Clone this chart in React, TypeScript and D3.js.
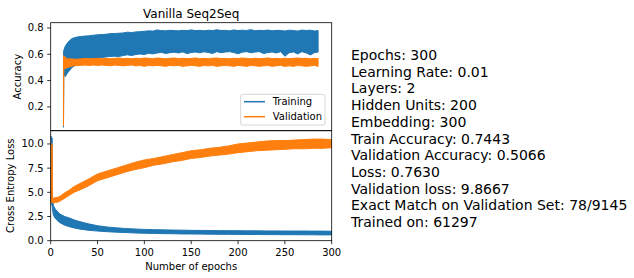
import React from "react";
import * as d3 from "d3";

// ---------- data (envelopes) ----------
const TOP_EPOCHS = [0, 0.4, 2, 5, 10, 15, 20, 25, 30, 35, 40, 45, 50, 55, 60, 65, 70, 75, 80, 85, 90, 95, 100, 105, 110, 115, 120, 125, 130, 135, 140, 145, 150, 155, 160, 165, 170, 175, 180, 185, 190, 195, 200, 205, 210, 215, 220, 225, 230, 235, 240, 245, 250, 255, 260, 265, 270, 275, 280, 285, 290, 295, 299];
const TRAIN_ACC_HI = [0.60, 0.63, 0.66, 0.69, 0.72, 0.73, 0.735, 0.738, 0.74, 0.745, 0.748, 0.75, 0.752, 0.757, 0.758, 0.76, 0.762, 0.768, 0.765, 0.77, 0.772, 0.775, 0.778, 0.776, 0.785, 0.78, 0.778, 0.782, 0.78, 0.778, 0.782, 0.78, 0.785, 0.78, 0.782, 0.778, 0.783, 0.78, 0.786, 0.781, 0.782, 0.778, 0.785, 0.78, 0.783, 0.781, 0.787, 0.779, 0.782, 0.78, 0.784, 0.778, 0.782, 0.781, 0.777, 0.783, 0.78, 0.776, 0.784, 0.781, 0.783, 0.777, 0.78];
const TRAIN_ACC_LO = [0.045, 0.45, 0.43, 0.46, 0.50, 0.52, 0.53, 0.545, 0.55, 0.56, 0.57, 0.575, 0.58, 0.583, 0.585, 0.583, 0.59, 0.596, 0.59, 0.598, 0.602, 0.598, 0.607, 0.603, 0.61, 0.614, 0.606, 0.612, 0.616, 0.61, 0.618, 0.605, 0.613, 0.617, 0.611, 0.619, 0.614, 0.606, 0.62, 0.612, 0.617, 0.62, 0.613, 0.604, 0.616, 0.62, 0.611, 0.617, 0.62, 0.605, 0.613, 0.617, 0.61, 0.62, 0.585, 0.612, 0.618, 0.603, 0.62, 0.61, 0.595, 0.613, 0.617];
const VAL_ACC_HI = [0.58, 0.59, 0.575, 0.565, 0.565, 0.562, 0.565, 0.568, 0.566, 0.567, 0.57, 0.566, 0.569, 0.566, 0.569, 0.572, 0.567, 0.569, 0.566, 0.57, 0.567, 0.572, 0.569, 0.566, 0.572, 0.569, 0.566, 0.569, 0.572, 0.567, 0.57, 0.567, 0.569, 0.572, 0.567, 0.569, 0.566, 0.57, 0.572, 0.567, 0.569, 0.566, 0.57, 0.567, 0.572, 0.569, 0.566, 0.57, 0.567, 0.569, 0.572, 0.567, 0.569, 0.566, 0.57, 0.567, 0.569, 0.572, 0.567, 0.57, 0.566, 0.569, 0.567];
const VAL_ACC_LO = [0.055, 0.50, 0.49, 0.50, 0.51, 0.514, 0.515, 0.518, 0.515, 0.518, 0.515, 0.518, 0.515, 0.512, 0.518, 0.515, 0.512, 0.515, 0.518, 0.512, 0.515, 0.508, 0.515, 0.512, 0.515, 0.512, 0.508, 0.515, 0.512, 0.515, 0.508, 0.512, 0.515, 0.512, 0.508, 0.515, 0.512, 0.515, 0.508, 0.512, 0.515, 0.512, 0.508, 0.515, 0.512, 0.508, 0.515, 0.512, 0.508, 0.512, 0.515, 0.508, 0.512, 0.515, 0.508, 0.512, 0.508, 0.515, 0.512, 0.508, 0.512, 0.515, 0.508];

const BOT_EPOCHS = [0, 1.6, 2.0, 2.5, 3, 5, 8, 10, 15, 20, 25, 30, 40, 50, 60, 70, 80, 90, 100, 110, 120, 130, 140, 150, 160, 170, 180, 190, 200, 210, 220, 230, 240, 250, 260, 270, 280, 290, 300];
const TRAIN_LOSS_HI = [10.83, 10.6, 4.3, 3.9, 3.6, 3.25, 2.95, 2.75, 2.5, 2.35, 2.15, 2.0, 1.75, 1.55, 1.42, 1.33, 1.26, 1.21, 1.17, 1.14, 1.12, 1.1, 1.09, 1.07, 1.06, 1.05, 1.04, 1.04, 1.03, 1.02, 1.02, 1.01, 1.01, 1.0, 1.0, 1.0, 0.99, 0.99, 0.98];
const TRAIN_LOSS_LO = [4.0, 3.6, 3.2, 2.9, 2.6, 2.3, 2.0, 1.85, 1.6, 1.45, 1.32, 1.22, 1.08, 1.0, 0.93, 0.88, 0.84, 0.8, 0.77, 0.75, 0.73, 0.72, 0.7, 0.69, 0.68, 0.67, 0.66, 0.66, 0.65, 0.64, 0.64, 0.63, 0.63, 0.62, 0.62, 0.61, 0.61, 0.6, 0.6];
const VAL_LOSS_HI = [10.1, 9.9, 4.4, 4.4, 4.4, 4.45, 4.5, 4.6, 4.95, 5.25, 5.6, 5.85, 6.35, 6.9, 7.2, 7.5, 7.8, 8.1, 8.35, 8.5, 8.7, 8.9, 9.1, 9.3, 9.4, 9.55, 9.65, 9.8, 10.0, 10.1, 10.2, 10.3, 10.35, 10.35, 10.4, 10.45, 10.5, 10.5, 10.45];
const VAL_LOSS_LO = [4.0, 3.95, 3.9, 3.9, 3.9, 3.95, 4.0, 4.1, 4.4, 4.7, 5.0, 5.2, 5.65, 6.2, 6.5, 6.8, 7.1, 7.35, 7.55, 7.8, 7.95, 8.15, 8.3, 8.5, 8.6, 8.75, 8.85, 8.95, 9.1, 9.2, 9.3, 9.35, 9.4, 9.45, 9.5, 9.5, 9.55, 9.55, 9.6];

const TOP_Y_TICKS = [0.2, 0.4, 0.6, 0.8];
const BOT_Y_TICKS = [0, 2.5, 5, 7.5, 10];
const X_TICKS = [0, 50, 100, 150, 200, 250, 300];
const LEGEND = ["Training", "Validation"];
const INFO_LINES = [
  "Epochs: 300",
  "Learning Rate: 0.01",
  "Layers: 2",
  "Hidden Units: 200",
  "Embedding: 300",
  "Train Accuracy: 0.7443",
  "Validation Accuracy: 0.5066",
  "Loss: 0.7630",
  "Validation loss: 9.8667",
  "Exact Match on Validation Set: 78/9145",
  "Trained on: 61297",
];

const BLUE = "#1f77b4";
const ORANGE = "#ff7f0e";
const FONT = "DejaVu Sans, sans-serif";

export default function App() {
  const L = 50.7, R = 331.7;
  const T1 = 22.7, B1 = 130.7, T2 = 130.7, B2 = 240.7;

  const xTop = d3.scaleLinear().domain([-15, 314.95]).range([L, R]);
  const yTop = d3.scaleLinear().domain([0.019, 0.84]).range([B1, T1]);
  const xBot = d3.scaleLinear().domain([0, 300]).range([L, R]);
  const yBot = d3.scaleLinear().domain([0, 11.37]).range([B2, T2]);

  const band = (xs: number[], lo: number[], hi: number[], x: any, y: any) =>
    d3.area<number>()
      .x((_, i) => x(xs[i]))
      .y0((_, i) => y(lo[i]))
      .y1((_, i) => y(hi[i]))(xs) || "";

  const tick = 3.5;

  return (
    <svg width={634} height={278} style={{ position: "absolute", left: 0, top: 0, background: "#fff" }} fontFamily={FONT}>
      <defs>
        <clipPath id="c1"><rect x={L} y={T1} width={R - L} height={B1 - T1} /></clipPath>
        <clipPath id="c2"><rect x={L} y={T2} width={R - L} height={B2 - T2} /></clipPath>
      </defs>
      <rect x={0} y={0} width={634} height={278} fill="#fff" />

      {/* top plot */}
      <g clipPath="url(#c1)">
        <path d={band(TOP_EPOCHS, TRAIN_ACC_LO, TRAIN_ACC_HI, xTop, yTop)} fill={BLUE} stroke={BLUE} strokeWidth={1} />
        <path d={band(TOP_EPOCHS, VAL_ACC_LO, VAL_ACC_HI, xTop, yTop)} fill={ORANGE} stroke={ORANGE} strokeWidth={1} />
      </g>
      <text x={(L + R) / 2} y={17.5} textAnchor="middle" fontSize={12}>Vanilla Seq2Seq</text>
      {TOP_Y_TICKS.map((t) => (
        <g key={"ty" + t}>
          <line x1={L - tick} x2={L} y1={yTop(t)} y2={yTop(t)} stroke="#000" strokeWidth={0.8} />
          <text x={L - 7} y={yTop(t)} dy="0.35em" textAnchor="end" fontSize={10} fill="#000">{t.toFixed(1)}</text>
        </g>
      ))}
      <text transform={`translate(20.5,${(T1 + B1) / 2}) rotate(-90)`} textAnchor="middle" fontSize={10}>Accuracy</text>
      <rect x={L} y={T1} width={R - L} height={B1 - T1} fill="none" stroke="#000" strokeWidth={0.8} />

      {/* legend */}
      <rect x={240.7} y={94.3} width={84.3} height={30.7} rx={2} fill="#fff" fillOpacity={0.8} stroke="#cccccc" strokeWidth={0.8} />
      {LEGEND.map((name, i) => (
        <g key={name}>
          <line x1={244} x2={265} y1={101.7 + i * 15} y2={101.7 + i * 15} stroke={i === 0 ? BLUE : ORANGE} strokeWidth={1.5} />
          <text x={272.7} y={101.7 + i * 15} dy="0.35em" fontSize={10}>{name}</text>
        </g>
      ))}

      {/* bottom plot */}
      <g clipPath="url(#c2)">
        <path d={band(BOT_EPOCHS, TRAIN_LOSS_LO, TRAIN_LOSS_HI, xBot, yBot)} fill={BLUE} stroke={BLUE} strokeWidth={1} />
        <path d={band(BOT_EPOCHS, VAL_LOSS_LO, VAL_LOSS_HI, xBot, yBot)} fill={ORANGE} stroke={ORANGE} strokeWidth={1} />
      </g>
      {BOT_Y_TICKS.map((t) => (
        <g key={"by" + t}>
          <line x1={L - tick} x2={L} y1={yBot(t)} y2={yBot(t)} stroke="#000" strokeWidth={0.8} />
          <text x={L - 7} y={yBot(t)} dy="0.35em" textAnchor="end" fontSize={10}>{t.toFixed(1)}</text>
        </g>
      ))}
      {X_TICKS.map((t) => (
        <g key={"bx" + t}>
          <line x1={xBot(t)} x2={xBot(t)} y1={B2} y2={B2 + tick} stroke="#000" strokeWidth={0.8} />
          <text x={xBot(t)} y={255.5} textAnchor="middle" fontSize={10}>{t}</text>
        </g>
      ))}
      <text x={(L + R) / 2} y={270} textAnchor="middle" fontSize={10}>Number of epochs</text>
      <text transform={`translate(13.5,${(T2 + B2) / 2}) rotate(-90)`} textAnchor="middle" fontSize={10}>Cross Entropy Loss</text>
      <rect x={L} y={T2} width={R - L} height={B2 - T2} fill="none" stroke="#000" strokeWidth={0.8} />

      {/* info text */}
      {INFO_LINES.map((s, i) => (
        <text key={s} x={351} y={60 + i * 16.7} fontSize={14}>{s}</text>
      ))}
    </svg>
  );
}
